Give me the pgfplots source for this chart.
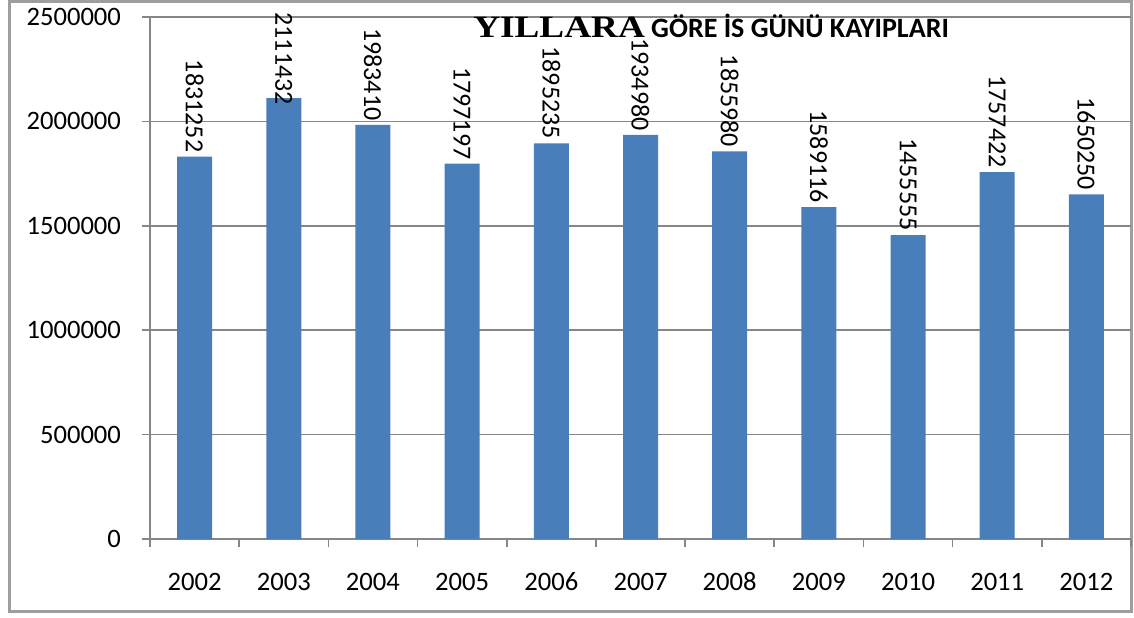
\documentclass[border=0pt]{standalone}
\usepackage{graphicx}
\usepackage{pgfplots}
\pgfplotsset{compat=1.18}
\usepackage{pgfplotstable}
\usepackage{fontspec}
\setmainfont{Carlito}
\newfontfamily\serifbold{Liberation Serif}
\definecolor{barblue}{HTML}{4A7EBB}
\definecolor{gridgray}{HTML}{868686}
\pgfplotstableread{
x y label
0 1831252 1831252
1 2111432 2111432
2 1983410 1983410
3 1797197 1797197
4 1895235 1895235
5 1934980 1934980
6 1855980 1855980
7 1589116 1589116
8 1455555 1455555
9 1757422 1757422
10 1650250 1650250
}\datatable
\pgfplotstableread{
x y label
0 1831252 1831252
2 1983410 1983410
3 1797197 1797197
4 1895235 1895235
5 1934980 1934980
6 1855980 1855980
7 1589116 1589116
8 1455555 1455555
9 1757422 1757422
10 1650250 1650250
}\labeltable
\pgfplotstableread{
x y label
1 2111432 2111432
}\toplabeltable
\begin{document}
\begin{tikzpicture}
\useasboundingbox (-75pt,-39pt) rectangle (492pt,269.5pt);
\draw[gridgray!80, line width=1.5pt] (-70pt,-36pt) rectangle (490.5pt,268.5pt);
\begin{axis}[
  at={(0,0)}, anchor=south west,
  scale only axis,
  width=490.5pt, height=261pt,
  xmin=-0.5, xmax=10.5,
  ymin=0, ymax=2500000,
  axis lines=left,
  axis line style={-, gridgray, line width=0.8pt},
  tick align=outside,
  major tick length=4pt,
  tick style={gridgray, line width=0.8pt},
  xtick={-0.5,0.5,...,10.5},
  xticklabels={},
  extra x ticks={0,1,2,3,4,5,6,7,8,9,10},
  extra x tick labels={2002,2003,2004,2005,2006,2007,2008,2009,2010,2011,2012},
  extra x tick style={major tick length=0pt, grid=none, tick label style={yshift=-13pt, text height=9pt, text depth=0pt}},
  ytick={0,500000,...,2500000},
  ymajorgrids,
  grid style={gridgray, line width=0.8pt},
  scaled y ticks=false,
  yticklabel style={/pgf/number format/fixed, /pgf/number format/1000 sep={}, xshift=-7pt},
  /pgf/number format/assume math mode=true,
  tick label style={font=\fontsize{13.3}{15}\selectfont, black},
  clip=false,
]
\addplot[ybar, bar width=17.5pt, fill=barblue, draw=none] table[x=x, y=y] {\datatable};
\addplot[draw=none, mark=none, only marks,
  point meta=explicit symbolic,
  nodes near coords,
  nodes near coords style={rotate=-90, anchor=east, inner sep=2pt, font=\fontsize{13}{15}\selectfont, black},
] table[x=x, y=y, meta=label] {\labeltable};
\addplot[draw=none, mark=none, only marks,
  point meta=explicit symbolic,
  nodes near coords,
  nodes near coords style={yshift=-5.5pt, rotate=-90, anchor=east, inner sep=2pt, font=\fontsize{13}{15}\selectfont, black},
] table[x=x, y=y, meta=label] {\toplabeltable};
\node[font=\bfseries\fontsize{14}{16}\selectfont, inner sep=0pt, anchor=base] at (rel axis cs:0.572,0.960) {\scalebox{1.2}[1]{\serifbold\fontsize{15.5}{18}\selectfont YILLARA} GÖRE İS GÜNÜ KAYIPLARI};
\end{axis}
\end{tikzpicture}
\end{document}
